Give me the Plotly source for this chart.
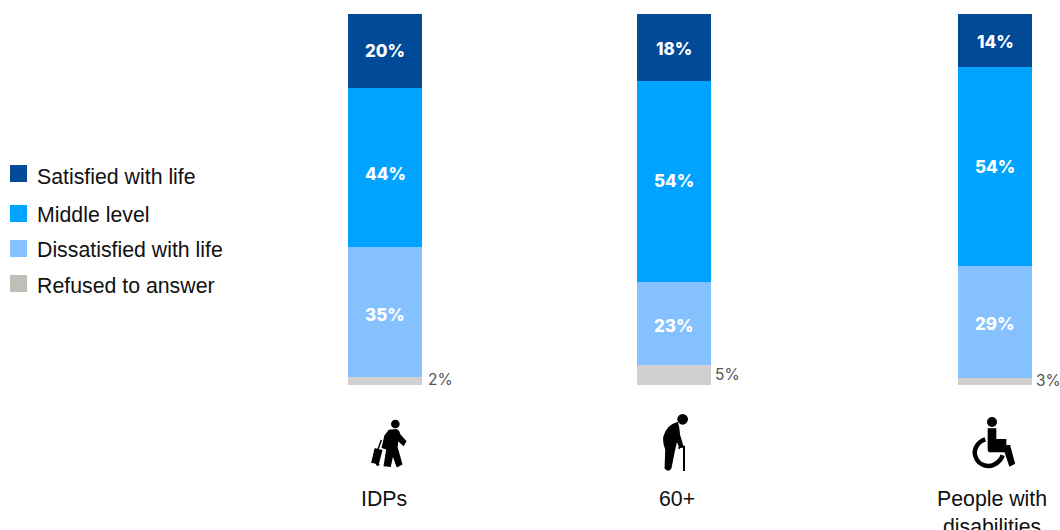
import re
import plotly.graph_objects as go

W, H = 1060, 530
groups = ["IDPs", "60+", "People with<br>disabilities"]
series = ["Satisfied with life", "Middle level", "Dissatisfied with life", "Refused to answer"]
satisfied = [19.9, 18.1, 14.3]
middle = [42.9, 54.2, 53.6]
dissatisfied = [35.0, 22.4, 30.2]
refused = [2.2, 5.4, 1.9]
satisfied_labels = ["20%", "18%", "14%"]
middle_labels = ["44%", "54%", "54%"]
dissatisfied_labels = ["35%", "23%", "29%"]
refused_labels = ["2%", "5%", "3%"]

# layout constants
bar_x = [385, 674, 995]
bar_w = 74
label_x = [384, 677, 992]
colors = ["#004A97", "#00A3FF", "#85C1FF", "#D0D0D0"]
swatch_colors = ["#004A97", "#00A3FF", "#85C1FF", "#BFBFB8"]
PX_PER_UNIT = 3.71
BASE_PX = 385
legend_tops = [165, 205, 240, 275]
legend_text_y = [177, 215, 250, 286]
# small pixel nudges of the labels, as placed in the reference
satisfied_shift = [0, -2, -1]
middle_shift = [-7, 0, -1]
dissatisfied_shift = [-3, -3, -2]
refused_xshift = [4, 2, 2]
refused_yshift = [1, 0, 1]

fig = go.Figure()
vals = [satisfied, middle, dissatisfied, refused]
for i in [3, 2, 1, 0]:
    fig.add_bar(
        x=bar_x, y=vals[i], width=bar_w, name=series[i],
        marker=dict(color=colors[i], line=dict(width=0)),
        showlegend=False, hoverinfo="name+y",
    )


def fx(px):
    return px / W


def fy(px):
    return 1 - px / H


def path(d, ox, oy):
    def rep(m):
        return f"{fx(ox + float(m.group(1)) / 3):.5f},{fy(oy + float(m.group(2)) / 3):.5f}"
    return re.sub(r"(-?[\d.]+),(-?[\d.]+)", rep, d)


shapes = []


def icon_path(d, ox, oy, fill="black", line=0):
    shapes.append(dict(type="path", xref="paper", yref="paper", path=path(d, ox, oy),
                       fillcolor=fill, line=dict(color="black", width=line)))


def icon_stroke(d, ox, oy, width):
    shapes.append(dict(type="path", xref="paper", yref="paper", path=path(d, ox, oy),
                       fillcolor="rgba(0,0,0,0)", line=dict(color="black", width=width)))


def icon_circle(cx, cy, r, ox, oy):
    shapes.append(dict(type="circle", xref="paper", yref="paper",
                       x0=fx(ox + (cx - r) / 3), x1=fx(ox + (cx + r) / 3),
                       y0=fy(oy + (cy + r) / 3), y1=fy(oy + (cy - r) / 3),
                       fillcolor="black", line=dict(width=0)))


# traveller
icon_circle(166, 192, 13, 340, 360)
icon_path("M148,212 L168,210 Q176,212 178,224 L196,244 L190,254 L172,238 L170,262 L184,312 L172,318 "
          "L158,280 L150,318 L134,316 L142,266 L128,262 L136,228 Z", 340, 360, line=2)
icon_path("M106,268 L124,272 L114,310 L97,306 Z", 340, 360, line=2)
icon_stroke("M114,268 L124,240", 340, 360, 1.5)
icon_circle(113, 313, 5, 340, 360)
# older person
icon_circle(158, 178, 16, 630, 360)
icon_path("M142,188 Q112,196 102,230 Q100,250 108,268 L106,325 Q115,335 122,325 L132,275 L140,240 "
          "L150,262 L158,258 L148,225 Q146,200 142,188 Z", 630, 360, line=1.5)
icon_stroke("M146,266 L150,260 L162,260 L162,333", 630, 360, 2)
# wheelchair
icon_circle(186, 186, 15, 930, 360)
icon_path("M176,208 L196,208 L196,240 L226,240 L226,252 L196,252 L196,258 L238,258 L252,310 L240,316 "
          "L226,274 L180,274 Q176,274 176,266 Z", 930, 360, line=2)
icon_stroke("M166,238 C140,246 130,272 136,288 C144,318 176,322 192,314 C206,308 214,298 218,286", 930, 360, 4.5)

# legend
for top, c in zip(legend_tops, swatch_colors):
    shapes.append(dict(type="rect", xref="paper", yref="paper", x0=fx(10), x1=fx(27),
                       y0=fy(top + 17), y1=fy(top), fillcolor=c, line=dict(width=0)))

ann = []
for name, y in zip(series, legend_text_y):
    ann.append(dict(xref="paper", yref="paper", x=fx(35), y=fy(y), text=name, showarrow=False,
                    xanchor="left", yanchor="middle",
                    font=dict(family="Liberation Sans", size=21.3, color="#111111")))
for name, x in zip(groups, label_x):
    ann.append(dict(xref="paper", yref="paper", x=fx(x), y=fy(485), text=name, showarrow=False,
                    xanchor="center", yanchor="top", align="center",
                    font=dict(family="Liberation Sans", size=21.3, color="#111111")))

# value labels in the bars, centred on their own segments
for k, x in enumerate(bar_x):
    base = refused[k]
    for v, labels, shift in [(dissatisfied[k], dissatisfied_labels, dissatisfied_shift),
                             (middle[k], middle_labels, middle_shift),
                             (satisfied[k], satisfied_labels, satisfied_shift)]:
        ann.append(dict(xref="x", yref="y", x=x, y=base + v / 2, text=labels[k], showarrow=False,
                        xanchor="center", yanchor="middle", yshift=shift[k],
                        font=dict(family="Inter", size=17, color="white", weight=800)))
        base += v
    ann.append(dict(xref="x", yref="y", x=x + bar_w / 2, y=refused[k] / 2, text=refused_labels[k],
                    showarrow=False, xanchor="left", yanchor="middle",
                    xshift=refused_xshift[k], yshift=refused_yshift[k],
                    font=dict(family="Inter", size=15.5, color="#555555")))

fig.update_layout(
    width=W, height=H, autosize=False,
    barmode="stack", bargap=0,
    margin=dict(l=0, r=0, t=0, b=0),
    paper_bgcolor="white", plot_bgcolor="white",
    xaxis=dict(range=[0, W], visible=False, fixedrange=True),
    yaxis=dict(range=[(BASE_PX - H) / PX_PER_UNIT, BASE_PX / PX_PER_UNIT], visible=False, fixedrange=True),
    shapes=shapes, annotations=ann, showlegend=False,
)
fig.write_html("out.html", config={"displayModeBar": False},
               post_script="document.body.style.margin='0';document.documentElement.style.overflow='hidden';")
